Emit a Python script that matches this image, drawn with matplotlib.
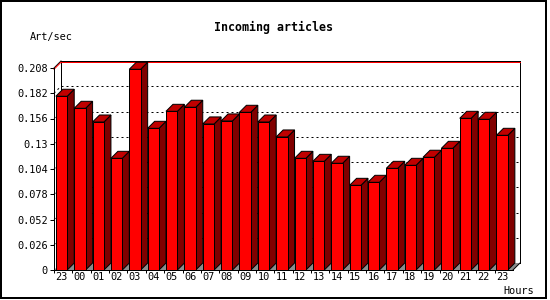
import matplotlib
matplotlib.use("Agg")
import matplotlib.pyplot as plt
from matplotlib.patches import Polygon, Rectangle

# ---- data ----
hours = ["23", "00", "01", "02", "03", "04", "05", "06", "07", "08", "09", "10",
         "11", "12", "13", "14", "15", "16", "17", "18", "19", "20", "21", "22", "23"]
values = [0.1789, 0.1665, 0.1524, 0.1150, 0.2067, 0.1459, 0.1634, 0.1676, 0.1504,
          0.1535, 0.1624, 0.1524, 0.1370, 0.1150, 0.1119, 0.1099, 0.0872, 0.0903,
          0.1047, 0.1078, 0.1161, 0.1253, 0.1562, 0.1552, 0.1387]
yticks = [0, 0.026, 0.052, 0.078, 0.104, 0.13, 0.156, 0.182, 0.208]
ytick_labels = ["0", "0.026", "0.052", "0.078", "0.104", "0.13", "0.156", "0.182", "0.208"]
title = "Incoming articles"
ylabel = "Art/sec"
xlabel = "Hours"

W, H, DPI = 550, 300, 100
PX = 72.0 / DPI  # one pixel in points
MONO = "DejaVu Sans Mono"

fig = plt.figure(figsize=(W / DPI, H / DPI), dpi=DPI)
fig.patch.set_facecolor("white")

def fx(px):
    return px / W

def fy(py):
    return 1 - py / H

# front plane of the 3D box
left, right, top, bottom = 54, 513, 68, 270
ax = fig.add_axes([fx(left), fy(bottom), fx(right) - fx(left), fy(top) - fy(bottom)])
n = len(values)
ymax = yticks[-1]
ax.set_xlim(0, n)
ax.set_ylim(0, ymax)
ax.set_facecolor("none")
lw = PX
for s in ["top", "right"]:
    ax.spines[s].set_visible(False)
for s in ["left", "bottom"]:
    ax.spines[s].set_linewidth(lw)
    ax.spines[s].set_color("black")

# depth of 7 px converted to data units via the axes transform
depth_px = 7
inv = ax.transData.inverted()
x0, y0 = ax.transData.transform((0, 0))
dx, dy = inv.transform((x0 + depth_px, y0 + depth_px))

kw = dict(clip_on=False)

# floor
ax.add_patch(Polygon([(0, 0), (n, 0), (n + dx, dy), (dx, dy)], closed=True,
                     facecolor="#8c8c8c", edgecolor="none", zorder=1, **kw))

# gridlines (dotted) on the left wall and back wall
dash = (0, (2, 3))
for v in yticks[1:-1]:
    ax.plot([0, dx], [v, v + dy], color="black", lw=lw, ls=dash, zorder=1.5, **kw)
    ax.plot([dx, n + dx], [v + dy, v + dy], color="black", lw=lw, ls=dash,
            zorder=1.5, snap=True, **kw)

# back wall frame
ax.plot([dx, dx], [dy, ymax + dy], color="black", lw=lw, zorder=1.6, snap=True, **kw)
ax.plot([n + dx, n + dx], [dy, ymax + dy], color="black", lw=lw, zorder=1.6,
        snap=True, **kw)
ax.plot([dx, n + dx], [ymax + dy, ymax + dy], color="black", lw=lw, zorder=1.6,
        snap=True, **kw)
ax.plot([0, dx], [ymax, ymax + dy], color="black", lw=lw, zorder=1.6, **kw)
ax.plot([n, n + dx], [0, dy], color="black", lw=lw, zorder=1.6, **kw)

# maximum line (red)
vmax = max(values)
ax.plot([0, dx], [vmax, vmax + dy], color="red", lw=lw, zorder=1.7, **kw)
ax.plot([dx, n + dx], [vmax + dy, vmax + dy], color="red", lw=lw, zorder=1.7,
        snap=True, **kw)

# bars
front_off, front_w = 0.1, 0.62
ax.bar([i + front_off for i in range(n)], values, width=front_w, align="edge",
       color="#ff0000", edgecolor="black", linewidth=lw, zorder=3)
for i, v in enumerate(values):
    xl = i + front_off
    xr = xl + front_w
    side = [(xr, 0), (xr + dx, dy), (xr + dx, v + dy), (xr, v)]
    topf = [(xl, v), (xr, v), (xr + dx, v + dy), (xl + dx, v + dy)]
    ax.add_patch(Polygon(side, closed=True, facecolor="#800000", edgecolor="black",
                         linewidth=lw, zorder=2.5, **kw))
    ax.add_patch(Polygon(topf, closed=True, facecolor="#c00000", edgecolor="black",
                         linewidth=lw, zorder=2.6, **kw))

# ticks
ax.set_yticks(yticks)
ax.set_yticklabels(ytick_labels, fontsize=7.4, family=MONO)
ax.tick_params(axis="y", direction="out", length=4 * PX, width=lw, pad=2 * PX)
ax.set_xticks(range(n))
ax.set_xticklabels([])
ax.set_xticks([i + front_off + front_w / 2 for i in range(n)], minor=True)
ax.set_xticklabels(hours, minor=True, fontsize=7.4, family=MONO)
ax.tick_params(axis="x", which="major", direction="out", length=3 * PX, width=lw)
ax.tick_params(axis="x", which="minor", length=0, pad=2.5 * PX)

# texts
fig.text(fx(274), fy(27), title, ha="center", va="center", fontsize=8.4,
         family=MONO, fontweight="bold")
fig.text(fx(30), fy(37), ylabel, ha="left", va="center", fontsize=7.4, family=MONO)
fig.text(fx(534), fy(291), xlabel, ha="right", va="center", fontsize=7.4, family=MONO)

# image border
fig.patches.append(Rectangle((fx(1), fy(298)), fx(546) - fx(1), fy(1) - fy(298),
                             transform=fig.transFigure, fill=False, edgecolor="black",
                             linewidth=2 * PX, antialiased=False))

fig.savefig("out.png", dpi=DPI)
